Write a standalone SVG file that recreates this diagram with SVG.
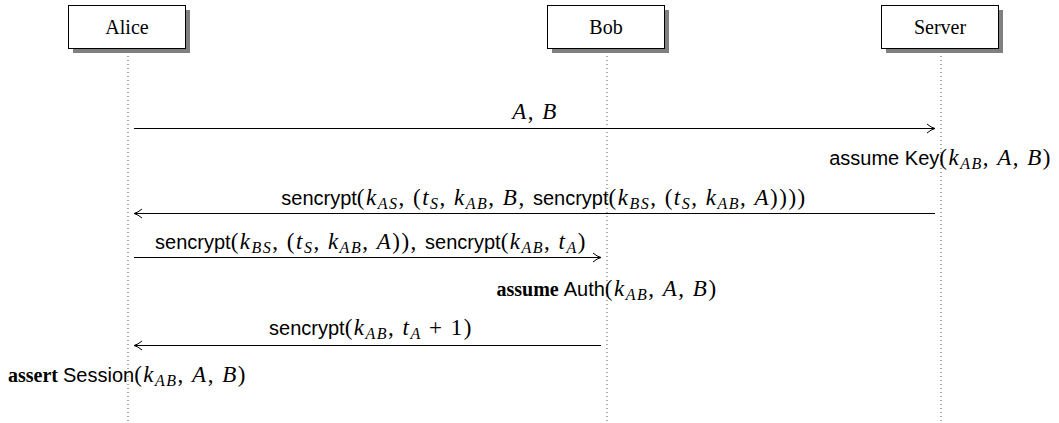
<svg xmlns="http://www.w3.org/2000/svg" width="1059" height="423" viewBox="0 0 1059 423">
<defs>
<style>
text{font-size:20px;fill:#000}
.n{font-family:"Liberation Serif",serif}
.r{font-family:"Liberation Serif",serif;font-size:23px;letter-spacing:1.5px}
.m{font-family:"Liberation Serif",serif;font-style:italic;font-size:23px;letter-spacing:1.5px}
.sub{font-size:16px}
.s{font-family:"Liberation Sans",sans-serif;font-size:20px}
.b{font-family:"Liberation Serif",serif;font-weight:bold;font-size:20px}
.box{fill:#fff;stroke:#000;stroke-width:1}
.sh{fill:#808080}
.life{stroke:#555;stroke-width:1;stroke-dasharray:1 3}
.msg{stroke:#000;stroke-width:1;fill:none}
</style>
<marker id="ah" markerWidth="12" markerHeight="12" refX="10" refY="6" orient="auto" markerUnits="userSpaceOnUse">
<path d="M2,1.5 Q6,5 10,6 Q6,7 2,10.5" fill="none" stroke="#000" stroke-width="1"/>
</marker>
</defs>
<g id="lifelines">
<line class="life" x1="128" y1="52" x2="128" y2="423"/>
<line class="life" x1="607" y1="52" x2="607" y2="423"/>
<line class="life" x1="941" y1="52" x2="941" y2="423"/>
</g>
<g id="alice">
<rect class="sh" x="73" y="10" width="117" height="43"/>
<rect class="box" x="68.5" y="5.5" width="117" height="43"/>
<text class="n" x="127" y="34" text-anchor="middle">Alice</text>
</g>
<g id="bob">
<rect class="sh" x="552" y="10" width="117" height="43"/>
<rect class="box" x="547.5" y="5.5" width="117" height="43"/>
<text class="n" x="606" y="34" text-anchor="middle">Bob</text>
</g>
<g id="server">
<rect class="sh" x="886" y="10" width="117" height="43"/>
<rect class="box" x="881.5" y="5.5" width="117" height="43"/>
<text class="n" x="940" y="34" text-anchor="middle">Server</text>
</g>
<g id="connectors">
<line class="msg" x1="134" y1="128.5" x2="935" y2="128.5" marker-end="url(#ah)"/>
<line class="msg" x1="935" y1="213.5" x2="134" y2="213.5" marker-end="url(#ah)"/>
<line class="msg" x1="134" y1="257.5" x2="601" y2="257.5" marker-end="url(#ah)"/>
<line class="msg" x1="601" y1="345.5" x2="134" y2="345.5" marker-end="url(#ah)"/>
</g>
<g id="labels">
<text x="535" y="119" text-anchor="middle"><tspan class="m">A</tspan><tspan class="r">, </tspan><tspan class="m">B</tspan></text>
<text x="1052" y="165" text-anchor="end"><tspan class="s">assume  Key</tspan><tspan class="r">(</tspan><tspan class="m">k</tspan><tspan class="m sub" dy="4">AB</tspan><tspan class="r" dy="-4">, </tspan><tspan class="m">A</tspan><tspan class="r">, </tspan><tspan class="m">B</tspan><tspan class="r">)</tspan></text>
<text x="544" y="205" text-anchor="middle"><tspan class="s">sencrypt</tspan><tspan class="r">(</tspan><tspan class="m">k</tspan><tspan class="m sub" dy="4">AS</tspan><tspan class="r" dy="-4">, (</tspan><tspan class="m">t</tspan><tspan class="m sub" dy="4">S</tspan><tspan class="r" dy="-4">, </tspan><tspan class="m">k</tspan><tspan class="m sub" dy="4">AB</tspan><tspan class="r" dy="-4">, </tspan><tspan class="m">B</tspan><tspan class="r">, </tspan><tspan class="s">sencrypt</tspan><tspan class="r">(</tspan><tspan class="m">k</tspan><tspan class="m sub" dy="4">BS</tspan><tspan class="r" dy="-4">, (</tspan><tspan class="m">t</tspan><tspan class="m sub" dy="4">S</tspan><tspan class="r" dy="-4">, </tspan><tspan class="m">k</tspan><tspan class="m sub" dy="4">AB</tspan><tspan class="r" dy="-4">, </tspan><tspan class="m">A</tspan><tspan class="r">))))</tspan></text>
<text x="371" y="249" text-anchor="middle"><tspan class="s">sencrypt</tspan><tspan class="r">(</tspan><tspan class="m">k</tspan><tspan class="m sub" dy="4">BS</tspan><tspan class="r" dy="-4">, (</tspan><tspan class="m">t</tspan><tspan class="m sub" dy="4">S</tspan><tspan class="r" dy="-4">, </tspan><tspan class="m">k</tspan><tspan class="m sub" dy="4">AB</tspan><tspan class="r" dy="-4">, </tspan><tspan class="m">A</tspan><tspan class="r">)), </tspan><tspan class="s">sencrypt</tspan><tspan class="r">(</tspan><tspan class="m">k</tspan><tspan class="m sub" dy="4">AB</tspan><tspan class="r" dy="-4">, </tspan><tspan class="m">t</tspan><tspan class="m sub" dy="4">A</tspan><tspan class="r" dy="-4">)</tspan></text>
<text x="607" y="296" text-anchor="middle"><tspan class="b">assume </tspan><tspan class="s">Auth</tspan><tspan class="r">(</tspan><tspan class="m">k</tspan><tspan class="m sub" dy="4">AB</tspan><tspan class="r" dy="-4">, </tspan><tspan class="m">A</tspan><tspan class="r">, </tspan><tspan class="m">B</tspan><tspan class="r">)</tspan></text>
<text x="371" y="335" text-anchor="middle"><tspan class="s">sencrypt</tspan><tspan class="r">(</tspan><tspan class="m">k</tspan><tspan class="m sub" dy="4">AB</tspan><tspan class="r" dy="-4">, </tspan><tspan class="m">t</tspan><tspan class="m sub" dy="4">A</tspan><tspan class="r" dy="-4"> + 1)</tspan></text>
<text x="8" y="382"><tspan class="b">assert </tspan><tspan class="s">Session</tspan><tspan class="r">(</tspan><tspan class="m">k</tspan><tspan class="m sub" dy="4">AB</tspan><tspan class="r" dy="-4">, </tspan><tspan class="m">A</tspan><tspan class="r">, </tspan><tspan class="m">B</tspan><tspan class="r">)</tspan></text>
</g>
</svg>
